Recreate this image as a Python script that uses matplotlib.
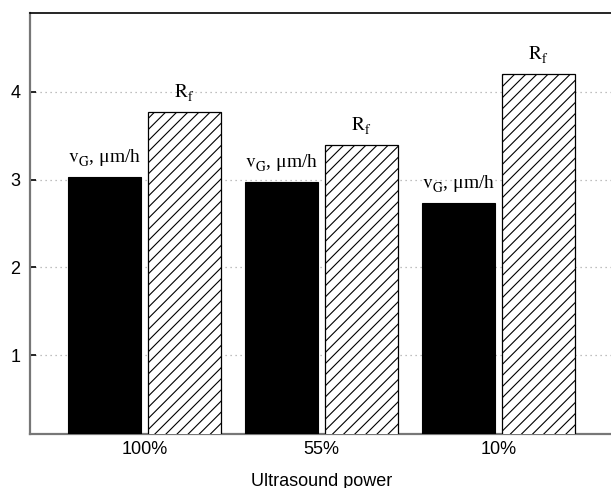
import matplotlib
matplotlib.use("Agg")
import matplotlib.pyplot as plt
import numpy as np

# Data: growth rate and roughness factor at three ultrasound power levels
categories = ["100%", "55%", "10%"]
growth_rate = [3.03, 2.97, 2.73]      # v_G, um/h
roughness = [3.77, 3.40, 4.21]        # R_f
yticks = [1, 2, 3, 4]

plt.rcParams["mathtext.fontset"] = "stix"
plt.rcParams["hatch.linewidth"] = 0.8

# drop subscripts a little lower than the mathtext default
try:
    from matplotlib import _mathtext
    _mathtext.STIXFontConstants.sub1 = 0.5
except Exception:
    pass

DPI = 100
fig = plt.figure(figsize=(611 / DPI, 488 / DPI), dpi=DPI)
ax = fig.add_axes([30 / 611, 54 / 488, 583 / 611, 421 / 488])

x = np.arange(1, len(categories) + 1)
width = 0.41
offset = 0.225

ax.bar(x - offset, growth_rate, width, color="black", edgecolor="black",
       linewidth=0.8, zorder=3)
ax.bar(x + offset, roughness, width, color="white", edgecolor="black",
       hatch="///", linewidth=0.9, zorder=3)

label_gap = 0.165
for xi, v in zip(x - offset, growth_rate):
    ax.text(xi, v + label_gap, r"$\mathrm{v}_\mathrm{G}$, μm/h",
            ha="center", va="baseline", fontsize=14,
            family=["Liberation Serif", "DejaVu Serif"], zorder=4)
for xi, v in zip(x + offset, roughness):
    ax.text(xi, v + label_gap, r"$\mathrm{R}_\mathrm{f}$",
            ha="center", va="baseline", fontsize=14,
            family=["Liberation Serif", "DejaVu Serif"], zorder=4)

ax.set_xlim(0.353, 3.647)
ax.set_ylim(0.1, 4.9)
ax.set_xticks(x)
ax.set_xticklabels(categories, family="Liberation Sans", fontsize=13)
ax.set_yticks(yticks)
ax.set_yticklabels([str(t) for t in yticks], family="Liberation Sans", fontsize=13)
ax.tick_params(axis="x", length=0, pad=5)
ax.tick_params(axis="y", direction="in", length=4, width=1.2, color="black", pad=7)

ax.yaxis.grid(True, linestyle=(0, (1, 3)), color="#aaaaaa", linewidth=0.9, zorder=0)
ax.set_axisbelow(True)

ax.set_xlabel("Ultrasound power", family="Liberation Sans", fontsize=13, labelpad=10.5)

ax.spines["right"].set_visible(False)
ax.spines["top"].set_color("black")
ax.spines["top"].set_linewidth(1.2)
for side in ("left", "bottom"):
    ax.spines[side].set_color("#777777")
    ax.spines[side].set_linewidth(1.6)

fig.savefig("out.png", dpi=DPI)
